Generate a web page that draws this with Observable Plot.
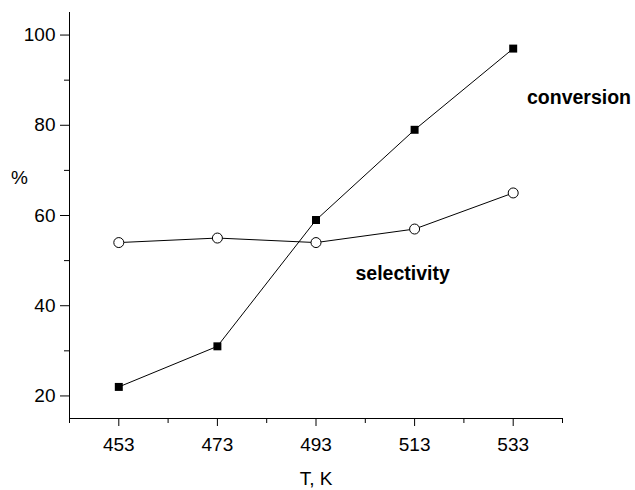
<!DOCTYPE html>
<html>
<head>
<meta charset="utf-8">
<script src="https://cdn.jsdelivr.net/npm/d3@7"></script>
<script src="https://cdn.jsdelivr.net/npm/@observablehq/plot@0.6"></script>
<style>
  html, body { margin: 0; padding: 0; background: #fff; }
  svg { font-family: "Liberation Sans", Arial, sans-serif; }
</style>
</head>
<body>
<div id="chart"></div>
<script>
const temperatures = [453, 473, 493, 513, 533];
const conversion = [22, 31, 59, 79, 97];
const selectivity = [54, 55, 54, 57, 65];
const xMajorTicks = [453, 473, 493, 513, 533];
const xMinorTicks = [443, 463, 483, 503, 523, 543];
const yMajorTicks = [20, 40, 60, 80, 100];
const yMinorTicks = [30, 50, 70, 90];
const seriesLabels = [
  {x: 535.8, y: 86, text: "conversion"},
  {x: 501, y: 47, text: "selectivity"}
];

const convData = temperatures.map((t, i) => ({t, v: conversion[i]}));
const selData = temperatures.map((t, i) => ({t, v: selectivity[i]}));

const chart = Plot.plot({
  width: 635,
  height: 490,
  marginLeft: 69,
  marginRight: 73,
  marginTop: 12,
  marginBottom: 72,
  style: {fontFamily: '"Liberation Sans", Arial, sans-serif', background: "#fff", color: "#000"},
  x: {domain: [443, 543]},
  y: {domain: [15, 105]},
  marks: [
    Plot.ruleX([443], {stroke: "#000", strokeWidth: 1}),
    Plot.ruleY([15], {stroke: "#000", strokeWidth: 1}),
    Plot.axisX(xMajorTicks, {tickSize: 8, tickPadding: 11, fontSize: 19, label: null, stroke: "#000"}),
    Plot.axisX(xMinorTicks, {tickSize: 5, tickFormat: () => "", label: null, stroke: "#000"}),
    Plot.axisY(yMajorTicks, {tickSize: 9, tickPadding: 5, fontSize: 19, label: null, stroke: "#000"}),
    Plot.axisY(yMinorTicks, {tickSize: 5, tickFormat: () => "", label: null, stroke: "#000"}),
    Plot.text(["T, K"], {frameAnchor: "bottom", dy: 66, fontSize: 19, fill: "#000"}),
    Plot.text(["%"], {x: 443, y: 68.3, dx: -50, fontSize: 19, fill: "#000", textAnchor: "middle"}),
    Plot.line(convData, {x: "t", y: "v", stroke: "#000", strokeWidth: 1}),
    Plot.line(selData, {x: "t", y: "v", stroke: "#000", strokeWidth: 1}),
    Plot.dot(convData, {x: "t", y: "v", symbol: "square", r: 4.5, fill: "#000", stroke: "none"}),
    Plot.dot(selData, {x: "t", y: "v", symbol: "circle", r: 5, fill: "#fff", stroke: "#000", strokeWidth: 1}),
    Plot.text(seriesLabels, {x: "x", y: "y", text: "text", textAnchor: "start", fontSize: 19.5, fontWeight: "bold", fill: "#000"})
  ]
});
document.getElementById("chart").appendChild(chart);
</script>
</body>
</html>
